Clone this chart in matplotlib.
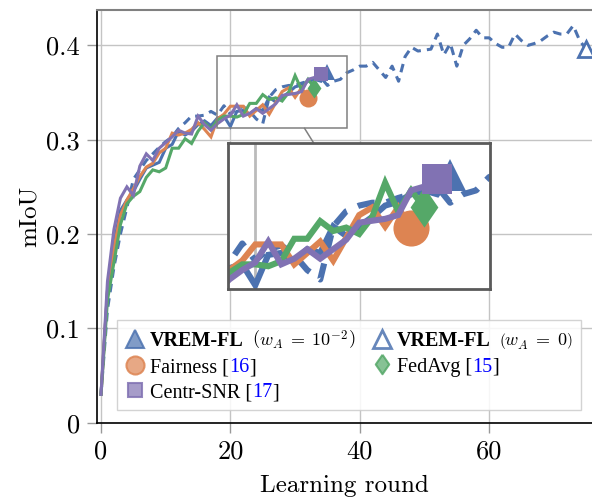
import numpy as np
import matplotlib
matplotlib.use("Agg")
import matplotlib.pyplot as plt
from matplotlib.lines import Line2D
from matplotlib.patches import Rectangle
from matplotlib.offsetbox import TextArea, HPacker
from matplotlib.colors import to_rgba

plt.rcParams['font.family'] = ['Liberation Serif', 'DejaVu Serif']
plt.rcParams['mathtext.fontset'] = 'cm'

# ---------------------------------------------------------------------------
# mIoU per learning round
# ---------------------------------------------------------------------------
vrem_w0 = [0.030, 0.120, 0.165, 0.200, 0.228, 0.258, 0.268, 0.278, 0.285, 0.292,
           0.298, 0.303, 0.312, 0.318, 0.325, 0.325, 0.326, 0.330, 0.326, 0.336,
           0.327, 0.333, 0.335, 0.330, 0.322, 0.317, 0.345, 0.353, 0.356, 0.3575,
           0.3575, 0.360, 0.362, 0.364, 0.366, 0.3575, 0.362, 0.364, 0.371, 0.374,
           0.378, 0.378, 0.382, 0.374, 0.366, 0.378, 0.362, 0.388, 0.398, 0.394,
           0.395, 0.396, 0.412, 0.390, 0.402, 0.378, 0.400, 0.407, 0.416, 0.408,
           0.408, 0.402, 0.398, 0.398, 0.412, 0.405, 0.400, 0.402, 0.405, 0.410,
           0.414, 0.412, 0.412, 0.421, 0.405, 0.396]
vrem_w2 = [0.030, 0.140, 0.190, 0.225, 0.236, 0.245, 0.258, 0.270, 0.273, 0.276,
           0.291, 0.295, 0.309, 0.305, 0.309, 0.316, 0.320, 0.315, 0.323, 0.325,
           0.314, 0.330, 0.331, 0.327, 0.333, 0.331, 0.345, 0.340, 0.345, 0.350,
           0.356, 0.358, 0.362, 0.364, 0.362, 0.372]
fairness = [0.030, 0.140, 0.185, 0.220, 0.236, 0.248, 0.261, 0.271, 0.275, 0.286,
            0.291, 0.307, 0.305, 0.307, 0.311, 0.318, 0.311, 0.303, 0.322, 0.327,
            0.3355, 0.3355, 0.3355, 0.325, 0.331, 0.337, 0.327, 0.339, 0.351, 0.355,
            0.345, 0.355, 0.344]
fedavg = [0.030, 0.130, 0.170, 0.210, 0.232, 0.240, 0.245, 0.260, 0.268, 0.266,
          0.270, 0.291, 0.291, 0.301, 0.296, 0.309, 0.318, 0.311, 0.3206, 0.325,
          0.325, 0.324, 0.3267, 0.3385, 0.3385, 0.3478, 0.3426, 0.3444, 0.341, 0.350,
          0.368, 0.353, 0.364, 0.355]
centr_snr = [0.030, 0.150, 0.205, 0.238, 0.250, 0.241, 0.272, 0.285, 0.278, 0.291,
             0.297, 0.303, 0.310, 0.307, 0.306, 0.325, 0.316, 0.310, 0.317, 0.322,
             0.326, 0.337, 0.325, 0.328, 0.333, 0.328, 0.333, 0.338, 0.347, 0.348,
             0.349, 0.351, 0.364, 0.366, 0.370]

x_ticks = [0, 20, 40, 60]
y_ticks = [0, 0.1, 0.2, 0.3, 0.4]
zoom_x = (17.9, 38.07)
zoom_y = (0.312, 0.389)

BLUE, ORANGE, GREEN, PURPLE = '#4C72B0', '#DD8452', '#55A868', '#8172B3'
DIAMOND = [(0, 1), (0.69, 0), (0, -1), (-0.69, 0), (0, 1)]
LW = 2.2
DASH = (0, (2.8, 2.0))
CM = 'cmr10'

# (values, colour, linestyle, marker, marker size, open marker?)
series = [
    (vrem_w0, BLUE, DASH, '^', 11.5, True),
    (vrem_w2, BLUE, '-', '^', 11.5, False),
    (fairness, ORANGE, '-', 'o', 13.0, False),
    (fedavg, GREEN, '-', DIAMOND, 14.5, False),
    (centr_snr, PURPLE, '-', 's', 10.6, False),
]


def draw_series(axis, scale=1.0):
    for vals, col, ls, mk, ms, hollow in series:
        axis.plot(np.arange(len(vals)), vals, color=col, lw=LW * scale, ls=ls,
                  marker=mk, markevery=[-1], ms=ms * scale,
                  mfc='white' if hollow else col, mec=col,
                  mew=(2.0 if hollow else 0.0) * scale,
                  solid_joinstyle='miter', dash_capstyle='butt')


fig = plt.figure(figsize=(5.92, 5.0), dpi=100)
ax = fig.add_axes([97 / 592, 1 - 422.7 / 500, 1 - 97 / 592, (422.7 - 10) / 500])

draw_series(ax)

ax.set_xlim(-0.62, 75.9)
ax.set_ylim(0, 0.4375)
ax.set_xticks(x_ticks)
ax.set_xticklabels([str(v) for v in x_ticks], fontfamily=CM, fontsize=19)
ax.set_yticks(y_ticks)
ax.set_yticklabels(['0' if v == 0 else f'{v:.1f}' for v in y_ticks],
                   fontfamily=CM, fontsize=19)
ax.tick_params(color='#999999', length=7.5, width=1, direction='out', pad=5)
ax.grid(True, color='#c4c4c4', lw=1.0)
ax.set_axisbelow(True)
ax.set_xlabel('Learning round', fontfamily=CM, fontsize=18, labelpad=8)
ax.set_ylabel('mIoU', fontfamily=CM, fontsize=18, labelpad=4)
for s in ['left', 'bottom']:
    ax.spines[s].set_color('black')
    ax.spines[s].set_linewidth(1.2)
ax.spines['top'].set_color('#808080')
ax.spines['top'].set_linewidth(1.5)
ax.spines['right'].set_visible(False)

# spy rectangle
ax.add_patch(Rectangle((zoom_x[0], zoom_y[0]), zoom_x[1] - zoom_x[0],
                       zoom_y[1] - zoom_y[0], fill=False, ec='#808080',
                       lw=1.1, zorder=6))

# magnified inset (2x)
ins_rect = [228 / 592, 1 - 289 / 500, 262 / 592, 146 / 500]
axins = fig.add_axes(ins_rect, zorder=5)
axins.set_facecolor('white')
draw_series(axins, scale=2.0)
axins.set_xlim(*zoom_x)
axins.set_ylim(*zoom_y)
axins.set_xticks([20])
axins.set_yticks([])
axins.tick_params(length=0, labelbottom=False)
axins.grid(True, axis='x', color='#bbbbbb', lw=2.0)
axins.set_axisbelow(True)
for s in axins.spines.values():
    s.set_color('#5a5a5a')
    s.set_linewidth(2.0)

# connector between the centres, drawn only between the two frames
c1 = ax.transData.transform([np.mean(zoom_x), np.mean(zoom_y)])
bb = axins.get_position().transformed(fig.transFigure)
r0 = ax.transData.transform([zoom_x[0], zoom_y[0]])
r1 = ax.transData.transform([zoom_x[1], zoom_y[1]])
c2 = np.array([(bb.x0 + bb.x1) / 2, (bb.y0 + bb.y1) / 2])
d = c2 - c1
t1 = min((r1[0] - r0[0]) / 2 / abs(d[0]), (r1[1] - r0[1]) / 2 / abs(d[1]))
t2 = 1 - min(bb.width / 2 / abs(d[0]), bb.height / 2 / abs(d[1]))
p = fig.transFigure.inverted().transform([c1 + t1 * d, c1 + t2 * d])
fig.add_artist(Line2D(p[:, 0], p[:, 1], color='#808080', lw=1.1, zorder=4))

# legend
def handle(mk, col, ms, hollow=False):
    return Line2D([], [], ls='none', marker=mk, ms=ms,
                  mfc='white' if hollow else to_rgba(col, 0.7),
                  mec=to_rgba(col, 0.85), mew=2.0 if hollow else 1.5)


handles = [handle('^', BLUE, 13), handle('o', ORANGE, 13),
           handle('s', PURPLE, 10.5), handle('^', BLUE, 13, True),
           handle(DIAMOND, GREEN, 14)]
leg = ax.legend(handles, ['a'] * 5, ncol=2, loc='lower left',
                bbox_to_anchor=(0.04, 0.03), borderaxespad=0, fontsize=14.5,
                handlelength=1.0, handletextpad=0.25, labelspacing=0.3,
                columnspacing=0.8, borderpad=0.4, fancybox=False,
                edgecolor='#cccccc', framealpha=0.85)
leg.set_zorder(7)

txt = dict(family=['Liberation Serif', 'DejaVu Serif'], size=14.5)


def rich(parts, sep=0):
    return HPacker(pad=0, sep=sep, align='baseline',
                   children=[TextArea(s, textprops=dict(txt, **kw)) for s, kw in parts])


entries = [
    rich([('VREM-FL', dict(weight='bold')),
          (r'$\left(w_A\;=\;10^{-2}\right)$', dict(size=13))], sep=6),
    rich([('Fairness [', {}), ('16', dict(color='blue')), (']', {})]),
    rich([('Centr-SNR [', {}), ('17', dict(color='blue')), (']', {})]),
    rich([('VREM-FL', dict(weight='bold')),
          (r'$\left(w_A\;=\;0\right)$', dict(size=13))], sep=6),
    rich([('FedAvg [', {}), ('15', dict(color='blue')), (']', {})]),
]
items = [it for col in leg._legend_handle_box.get_children()
         for it in col.get_children()]
for it, new in zip(items, entries):
    it._children[1] = new
    new.set_figure(fig)

fig.savefig('out.png', dpi=100)
